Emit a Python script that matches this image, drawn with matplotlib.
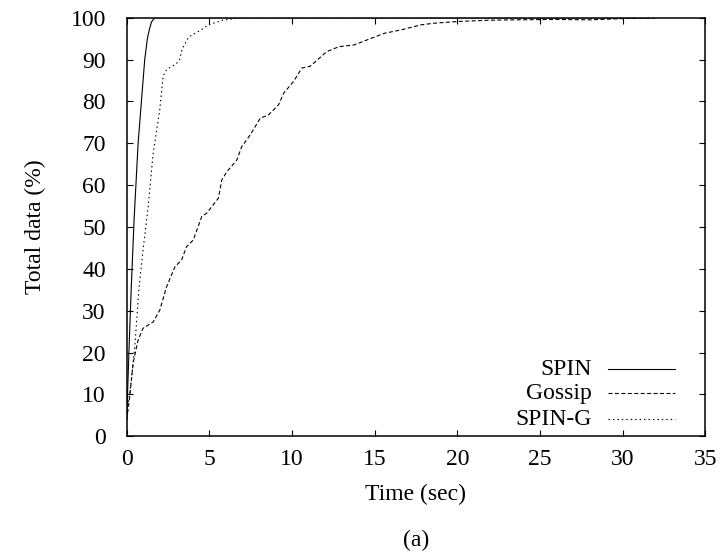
import matplotlib
matplotlib.use("Agg")
import matplotlib.pyplot as plt

# values (time in sec, cumulative % of data)
spin_t = [0, 0.05, 0.15, 0.28, 0.45, 0.69, 0.89, 1.09, 1.25, 1.36, 1.5, 1.7, 32]
spin_v = [4, 10, 22, 36, 52, 70, 80, 90, 95, 97, 99, 100, 100]

gossip_t = [0, 0.18, 0.39, 0.69, 0.99, 1.6, 2.0, 2.41, 2.92, 3.32, 3.62, 4.03, 4.54,
            4.84, 5.55, 5.75, 6.06, 6.66, 6.96, 7.47, 8.08, 8.58, 9.19, 9.5, 10.1,
            10.6, 11.1, 12.1, 12.85, 13.75, 14.8, 15.6, 16.6, 17.8, 18.6, 20.0,
            21.85, 23.3, 26.0, 28.0, 30.0, 31.7]
gossip_v = [4, 9.4, 17.5, 23, 25.8, 27.3, 30.1, 35.7, 40.5, 42.1, 45.3, 46.9, 52.5,
            53.3, 56.9, 61.2, 63.2, 66, 69.2, 72, 76, 76.8, 79.2, 82, 84.8,
            88, 88.4, 91.9, 93.1, 93.5, 95.1, 96.3, 97.1, 98.3, 98.7, 99.1,
            99.4, 99.5, 99.6, 99.5, 99.8, 100]

sping_t = [0, 0.1, 0.28, 0.49, 0.75, 0.99, 1.3, 1.6, 2.0, 2.2, 2.41, 3.0, 3.2, 3.35,
           3.75, 4.45, 4.95, 5.8, 6.9, 32]
sping_v = [4, 8, 13.4, 21.4, 35.7, 44.5, 54.9, 67.6, 78, 86, 87.6, 89, 90, 92.5,
           95.4, 97, 98.3, 99.4, 100, 100]

labels = ['SPIN', 'Gossip', 'SPIN-G']
xticks = [0, 5, 10, 15, 20, 25, 30, 35]
yticks = [0, 10, 20, 30, 40, 50, 60, 70, 80, 90, 100]

plt.rcParams['font.family'] = ['Liberation Serif', 'DejaVu Serif']
plt.rcParams['font.size'] = 17

fig = plt.figure(figsize=(7.24, 5.55), dpi=100)
ax = fig.add_axes([0.175, 0.214, 0.799, 0.754])

lw = 0.8
styles = [dict(linestyle='-'),
          dict(dashes=(3.6, 2.2)),
          dict(dashes=(1.3, 2.7))]
series = [(spin_t, spin_v), (gossip_t, gossip_v), (sping_t, sping_v)]

for (t, v), st in zip(series, styles):
    ax.plot(t, v, color='black', lw=lw, **st)

ax.set_xlim(0, 35)
ax.set_ylim(0, 100)
ax.set_xticks(xticks)
ax.set_yticks(yticks)
ax.tick_params(direction='in', length=4.5, width=0.8, top=True, right=True)
ax.tick_params(axis='x', pad=9)
ax.tick_params(axis='y', pad=15)
for s in ax.spines.values():
    s.set_linewidth(1.1)

ax.set_xlabel('Time (sec)')
ax.xaxis.set_label_coords(0.5, -0.115)
ax.set_ylabel('Total data (%)')
ax.yaxis.set_label_coords(-0.14, 0.5)

# key, gnuplot style: text right aligned, sample line to the right
key_y = [0.160, 0.103, 0.041]
for lab, st, yy in zip(labels, styles, key_y):
    ax.text(0.804, yy, lab, transform=ax.transAxes, ha='right', va='center')
    ax.plot([0.832, 0.948], [yy, yy], transform=ax.transAxes, color='black',
            lw=lw, clip_on=False, **st)

fig.text(0.575, 0.027, '(a)', ha='center', va='center')

fig.savefig('out.png', dpi=100)
plt.close()
